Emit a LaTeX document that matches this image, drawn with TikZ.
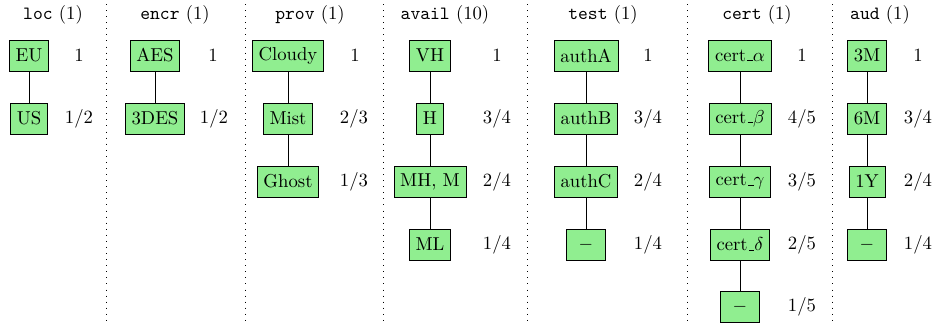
\documentclass[tikz,border=0pt]{standalone}
% short baseline rule, as the classic \_ of Computer Modern
\newcommand\lowbar{\leavevmode\kern.06em\vbox{\hrule width.3em}}
\begin{document}
\begin{tikzpicture}[x=0.535pt, y=-0.535pt,
  val/.style={draw, fill=lgreen, minimum height=16.6pt, inner sep=3.33pt},
  blank/.style={val, minimum width=20.9pt},
  frac/.style={inner sep=0pt},
  ttl/.style={inner sep=0pt},
  sep/.style={line width=0.45pt, dash pattern=on 0.45pt off 2.8pt},
  link/.style={line width=0.45pt}]
\definecolor{lgreen}{RGB}{144,238,144}
\useasboundingbox (0,0) rectangle (935,322);

% column separators
\foreach \x in {106,245,383,527,687,832}
  \draw[sep] (\x,4) -- (\x,322);

% rows
\def\ra{55.5}\def\rb{118.5}\def\rc{181.5}\def\rd{244.5}\def\re{306.5}

% loc
\node[ttl] (tloc) at (53,15) {\texttt{loc} (1)};
\node[val] (eu) at (29,\ra) {EU};
\node[val] (us) at (29,\rb) {US};
\node[frac] (feu) at (79,\ra) {$1$};
\node[frac] (fus) at (79,\rb) {$1/2$};
\draw[link] (eu) -- (us);

% encr
\node[ttl] (tencr) at (175,15) {\texttt{encr} (1)};
\node[val] (aes) at (155,\ra) {AES};
\node[val] (des) at (155,\rb) {3DES};
\node[frac] (faes) at (213,\ra) {$1$};
\node[frac] (fdes) at (214,\rb) {$1/2$};
\draw[link] (aes) -- (des);

% prov
\node[ttl] (tprov) at (310,15) {\texttt{prov} (1)};
\node[val] (cloudy) at (288,\ra) {Cloudy};
\node[val] (mist) at (288,\rb) {Mist};
\node[val] (ghost) at (288,\rc) {Ghost};
\node[frac] (fcloudy) at (355,\ra) {$1$};
\node[frac] (fmist) at (354,\rb) {$2/3$};
\node[frac] (fghost) at (354,\rc) {$1/3$};
\draw[link] (cloudy) -- (mist) -- (ghost);

% avail
\node[ttl] (tavail) at (445,15) {\texttt{avail} (10)};
\node[val] (vh) at (430,\ra) {VH};
\node[val] (h) at (430,\rb) {H};
\node[val] (mhm) at (430,\rc) {MH, M};
\node[val] (ml) at (430,\rd) {ML};
\node[frac] (fvh) at (497,\ra) {$1$};
\node[frac] (fh) at (497,\rb) {$3/4$};
\node[frac] (fmhm) at (497,\rc) {$2/4$};
\node[frac] (fml) at (497,\rd) {$1/4$};
\draw[link] (vh) -- (h) -- (mhm) -- (ml);

% test
\node[ttl] (ttest) at (603,15) {\texttt{test} (1)};
\node[val] (autha) at (586,\ra) {authA};
\node[val] (authb) at (586,\rb) {authB};
\node[val] (authc) at (586,\rc) {authC};
\node[blank] (tnone) at (586,\rd) {$-$};
\node[frac] (fautha) at (648,\ra) {$1$};
\node[frac] (fauthb) at (648,\rb) {$3/4$};
\node[frac] (fauthc) at (648,\rc) {$2/4$};
\node[frac] (ftnone) at (648,\rd) {$1/4$};
\draw[link] (autha) -- (authb) -- (authc) -- (tnone);

% cert
\node[ttl] (tcert) at (757,15) {\texttt{cert} (1)};
\node[val] (ca) at (740,\ra) {cert\lowbar$\alpha$};
\node[val] (cb) at (740,\rb) {cert\lowbar$\beta$};
\node[val] (cg) at (740,\rc) {cert\lowbar$\gamma$};
\node[val] (cd) at (740,\rd) {cert\lowbar$\delta$};
\node[blank] (cnone) at (740,\re) {$-$};
\node[frac] (fca) at (802,\ra) {$1$};
\node[frac] (fcb) at (802,\rb) {$4/5$};
\node[frac] (fcg) at (802,\rc) {$3/5$};
\node[frac] (fcd) at (802,\rd) {$2/5$};
\node[frac] (fcnone) at (802,\re) {$1/5$};
\draw[link] (ca) -- (cb) -- (cg) -- (cd) -- (cnone);

% aud
\node[ttl] (taud) at (880,15) {\texttt{aud} (1)};
\node[val] (m3) at (867,\ra) {3M};
\node[val] (m6) at (867,\rb) {6M};
\node[val] (y1) at (867,\rc) {1Y};
\node[blank] (anone) at (867,\rd) {$-$};
\node[frac] (fm3) at (918,\ra) {$1$};
\node[frac] (fm6) at (918,\rb) {$3/4$};
\node[frac] (fy1) at (918,\rc) {$2/4$};
\node[frac] (fanone) at (918,\rd) {$1/4$};
\draw[link] (m3) -- (m6) -- (y1) -- (anone);
\end{tikzpicture}
\end{document}
